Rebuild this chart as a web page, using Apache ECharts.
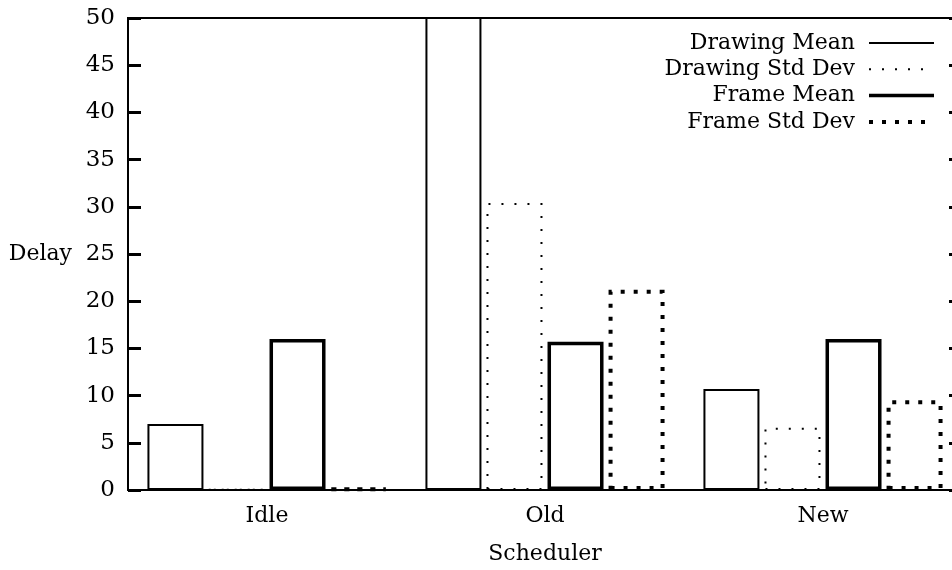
<!DOCTYPE html>
<html>
<head>
<meta charset="utf-8">
<script src="https://cdn.jsdelivr.net/npm/echarts@6/dist/echarts.min.js"></script>
<style>
html,body{margin:0;padding:0;background:#fff;}
#chart{width:952px;height:570px;}
</style>
</head>
<body>
<div id="chart"></div>
<script>
const categories = ['Idle', 'Old', 'New'];
const seriesNames = ['Drawing Mean', 'Drawing Std Dev', 'Frame Mean', 'Frame Std Dev'];
const drawingMean = [7.0, 60, 10.7];
const drawingStdDev = [0.05, 30.4, 6.6];
const frameMean = [16.0, 15.7, 16.0];
const frameStdDev = [0.15, 21.2, 9.5];
const yTicks = [0, 5, 10, 15, 20, 25, 30, 35, 40, 45, 50];

const FONT = 'DejaVu Serif';
const styles = [
  { width: 2, type: 'solid' },
  { width: 2, type: [2, 11] },
  { width: 3.5, type: 'solid' },
  { width: 4, type: [4, 9] }
];
const values = [drawingMean, drawingStdDev, frameMean, frameStdDev];

const chart = echarts.init(document.getElementById('chart'));

const series = seriesNames.map((name, i) => ({
  name: name,
  type: 'bar',
  data: values[i],
  barWidth: 56,
  barGap: '9%',
  clip: true,
  itemStyle: {
    color: 'rgba(255,255,255,0)',
    borderColor: '#000',
    borderWidth: styles[i].width,
    borderType: styles[i].type
  },
  emphasis: { disabled: true },
  animation: false
}));

const legendGraphics = [];
const legendTop = 43, legendStep = 26.3;
seriesNames.forEach((name, i) => {
  const y = legendTop + i * legendStep;
  legendGraphics.push({
    type: 'text',
    x: 855, y: y,
    style: {
      text: name,
      font: '22px "' + FONT + '"',
      fill: '#000',
      align: 'right',
      verticalAlign: 'middle'
    }
  });
  legendGraphics.push({
    type: 'line',
    shape: { x1: 869, y1: y, x2: 934, y2: y },
    style: {
      stroke: '#000',
      lineWidth: styles[i].width,
      lineDash: Array.isArray(styles[i].type) ? styles[i].type : null
    }
  });
});

chart.setOption({
  backgroundColor: '#fff',
  animation: false,
  textStyle: { fontFamily: FONT, color: '#000' },
  grid: {
    left: 128, top: 18, bottom: 80, width: 834,
    outerBoundsMode: 'none',
    containLabel: false,
    show: true, borderColor: '#000', borderWidth: 2,
    backgroundColor: 'rgba(0,0,0,0)'
  },
  xAxis: [{
    type: 'category',
    data: categories,
    position: 'bottom',
    name: 'Scheduler',
    nameLocation: 'middle',
    nameGap: 53,
    nameTextStyle: { fontFamily: FONT, fontSize: 22, color: '#000' },
    axisLine: { lineStyle: { color: '#000', width: 2 } },
    axisTick: { inside: true, alignWithLabel: true, length: 12, lineStyle: { color: '#000', width: 3 } },
    axisLabel: { fontFamily: FONT, fontSize: 22, color: '#000', margin: 15 },
    splitLine: { show: false }
  }, {
    type: 'category',
    data: categories,
    position: 'top',
    axisLine: { show: false },
    axisTick: { inside: true, alignWithLabel: true, length: 12, lineStyle: { color: '#000', width: 3 } },
    axisLabel: { show: false },
    splitLine: { show: false }
  }],
  yAxis: [{
    type: 'value',
    min: 0, max: 50, interval: 5,
    position: 'left',
    name: 'Delay',
    nameLocation: 'middle',
    nameRotate: 0,
    nameGap: 56,
    nameTextStyle: { fontFamily: FONT, fontSize: 22, color: '#000', align: 'right', verticalAlign: 'middle' },
    axisLine: { show: true, lineStyle: { color: '#000', width: 2 } },
    axisTick: { show: true, inside: true, length: 13, lineStyle: { color: '#000', width: 3 } },
    axisLabel: {
      fontFamily: FONT, fontSize: 23, color: '#000', margin: 13,
      formatter: v => yTicks.includes(v) ? String(v) : ''
    },
    splitLine: { show: false }
  }, {
    type: 'value',
    min: 0, max: 50, interval: 5,
    position: 'right',
    axisLine: { show: false },
    axisTick: { show: true, inside: true, length: 13, lineStyle: { color: '#000', width: 3 } },
    axisLabel: { show: false },
    splitLine: { show: false }
  }],
  series: series,
  graphic: legendGraphics
});
</script>
</body>
</html>
